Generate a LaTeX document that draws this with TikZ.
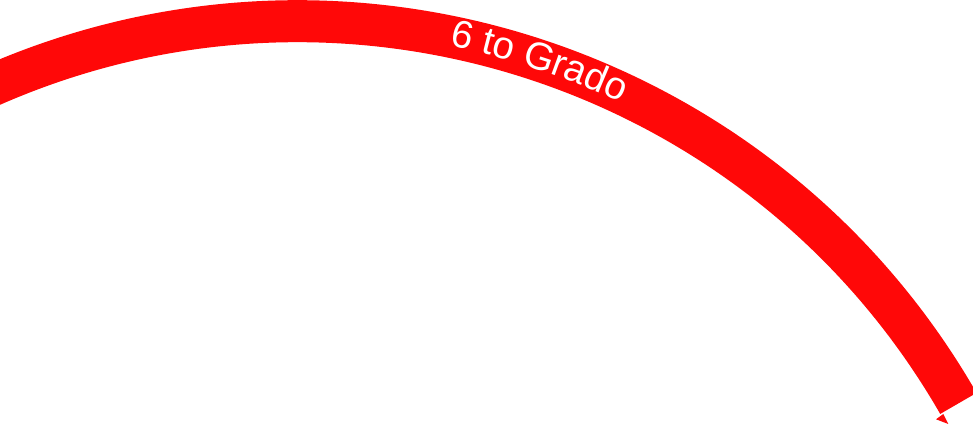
\documentclass[tikz,border=0pt]{standalone}
\usepackage{fontspec}
\setmainfont{Liberation Sans}
\usetikzlibrary{decorations.text}
\definecolor{linea}{RGB}{255,8,8}

\begin{document}
\begin{tikzpicture}[band/.style={draw=linea, line width=0.84cm}]
  \clip (0,0) rectangle (19.46,8.52);
  % tratto di linea (centro del cerchio fuori quadro)
  \coordinate (c) at (5.958,-7.144);
  \draw[band] (c) ++(115:15.238) arc[start angle=115, end angle=29.9, radius=15.238];
  % scritta lungo la linea
  \path[decorate, decoration={text along path, text align=center, raise=-0.18cm,
     text={|\fontsize{22}{26}\selectfont\color{white}|6 to Grado}}]
     (c) ++(86:15.238) arc[start angle=86, end angle=57, radius=15.238];
  % punta terminale
  \fill[linea] (18.72,0.134) -- (18.866,0.24) -- (18.966,0.04) -- cycle;
\end{tikzpicture}
\end{document}
